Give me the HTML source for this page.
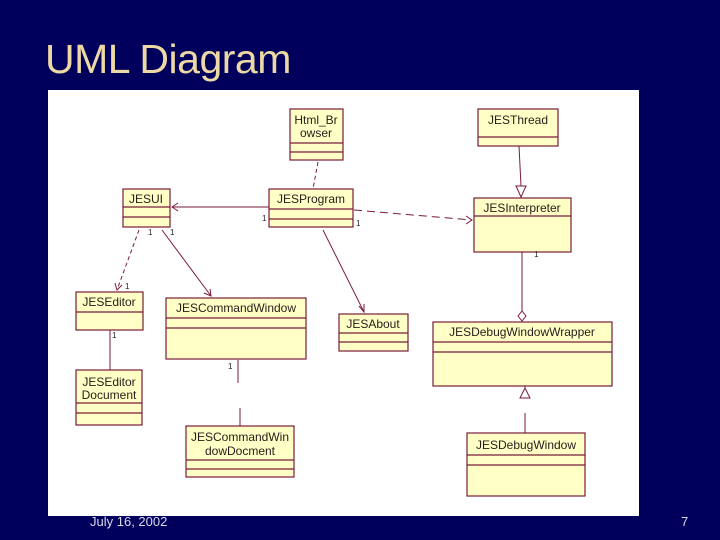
<!DOCTYPE html>
<html><head><meta charset="utf-8"><style>
html,body{margin:0;padding:0}
body{width:720px;height:540px;background:#00005c;position:relative;overflow:hidden;font-family:"Liberation Sans",sans-serif}
.t{position:absolute;left:45px;top:36px;font-size:41px;color:#ecd9a4;letter-spacing:-0.5px}
.f{position:absolute;font-size:13px;color:#d8d8ec}
</style></head><body>
<div class="t">UML Diagram</div>
<svg width="720" height="540" style="position:absolute;left:0;top:0">
<rect x="48" y="90" width="591" height="426" fill="#fff"/>
<g fill="#ffffc6" stroke="#7a1a3a" stroke-width="1.2">
<rect x="290" y="109" width="53" height="51"/><line x1="290" y1="143" x2="343" y2="143"/><line x1="290" y1="152" x2="343" y2="152"/>
<rect x="478" y="109" width="80" height="37"/><line x1="478" y1="137" x2="558" y2="137"/>
<rect x="123" y="189" width="47" height="38"/><line x1="123" y1="207" x2="170" y2="207"/><line x1="123" y1="217" x2="170" y2="217"/>
<rect x="269" y="189" width="84" height="38"/><line x1="269" y1="209" x2="353" y2="209"/><line x1="269" y1="219" x2="353" y2="219"/>
<rect x="474" y="198" width="97" height="54"/><line x1="474" y1="216" x2="571" y2="216"/>
<rect x="76" y="292" width="67" height="38"/><line x1="76" y1="312" x2="143" y2="312"/>
<rect x="166" y="298" width="140" height="61"/><line x1="166" y1="318" x2="306" y2="318"/><line x1="166" y1="328" x2="306" y2="328"/>
<rect x="339" y="314" width="69" height="37"/><line x1="339" y1="333" x2="408" y2="333"/><line x1="339" y1="342" x2="408" y2="342"/>
<rect x="433" y="322" width="179" height="64"/><line x1="433" y1="342" x2="612" y2="342"/><line x1="433" y1="352" x2="612" y2="352"/>
<rect x="76" y="370" width="66" height="55"/><line x1="76" y1="403" x2="142" y2="403"/><line x1="76" y1="413" x2="142" y2="413"/>
<rect x="186" y="426" width="108" height="51"/><line x1="186" y1="460" x2="294" y2="460"/><line x1="186" y1="469" x2="294" y2="469"/>
<rect x="467" y="433" width="118" height="63"/><line x1="467" y1="455" x2="585" y2="455"/><line x1="467" y1="465" x2="585" y2="465"/>
</g>
<g fill="none" stroke="#7a1a3a" stroke-width="1">
<line x1="269" y1="207" x2="172" y2="207"/><polyline points="178,203 172,207 178,211"/>
<line x1="318" y1="162" x2="313" y2="189" stroke-dasharray="4,3"/>
<line x1="354" y1="210" x2="472" y2="220" stroke-dasharray="8,5"/><polyline points="466,216 472,220 466,224"/>
<line x1="519" y1="146" x2="521" y2="186"/><polygon points="516,186 526,186 521,197" fill="#fff"/>
<line x1="522" y1="252" x2="522" y2="311"/><polygon points="522,311 526,316 522,321 518,316" fill="#fff"/>
<line x1="139" y1="230" x2="117" y2="290" stroke-dasharray="4,3"/><polyline points="115,283 117,290 122,285"/>
<line x1="162" y1="230" x2="211" y2="296"/><polyline points="204,293 211,296 210,289"/>
<line x1="323" y1="230" x2="364" y2="312"/><polyline points="359,306 364,312 364,304"/>
<line x1="110" y1="330" x2="110" y2="370"/>
<line x1="238" y1="360" x2="238" y2="383"/><line x1="240" y1="408" x2="240" y2="426"/>
<line x1="525" y1="398" x2="525" y2="386"/><polygon points="520,398 530,398 525,388" fill="#fff"/>
<line x1="525" y1="413" x2="525" y2="433"/>
</g>
<g font-family="Liberation Sans,sans-serif" font-size="12" fill="#2a1a1a" text-anchor="middle">
<text x="316" y="124">Html_Br</text><text x="316" y="137">owser</text>
<text x="518" y="124">JESThread</text>
<text x="146" y="203">JESUI</text>
<text x="311" y="203">JESProgram</text>
<text x="522" y="212">JESInterpreter</text>
<text x="109" y="306">JESEditor</text>
<text x="236" y="312">JESCommandWindow</text>
<text x="373" y="328">JESAbout</text>
<text x="522" y="336">JESDebugWindowWrapper</text>
<text x="109" y="386">JESEditor</text><text x="109" y="399">Document</text>
<text x="240" y="441">JESCommandWin</text><text x="240" y="455">dowDocment</text>
<text x="526" y="449">JESDebugWindow</text>
</g>
<g font-family="Liberation Sans,sans-serif" font-size="8" fill="#222">
<text x="262" y="221">1</text><text x="356" y="226">1</text><text x="148" y="235">1</text><text x="170" y="235">1</text>
<text x="125" y="289">1</text><text x="112" y="338">1</text><text x="228" y="369">1</text><text x="534" y="257">1</text>
</g>
</svg>
<div class="f" style="left:90px;top:514px">July 16, 2002</div>
<div class="f" style="left:681px;top:514px">7</div>
</body></html>
